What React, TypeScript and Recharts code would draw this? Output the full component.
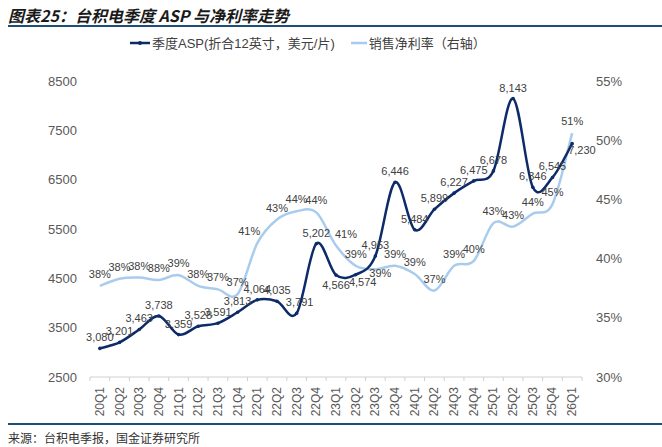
import { LineChart, Line, XAxis, YAxis, Legend, LabelList } from "recharts";

const quarters = [
  "20Q1", "20Q2", "20Q3", "20Q4", "21Q1", "21Q2", "21Q3", "21Q4",
  "22Q1", "22Q2", "22Q3", "22Q4", "23Q1", "23Q2", "23Q3", "23Q4",
  "24Q1", "24Q2", "24Q3", "24Q4", "25Q1", "25Q2", "25Q3", "25Q4", "26Q1",
];

// ASP, 12-inch equivalent, USD per wafer
const asp = [
  3080, 3201, 3463, 3738, 3359, 3528, 3591, 3813,
  4064, 4035, 3791, 5202, 4566, 4574, 4953, 6446,
  5484, 5899, 6227, 6475, 6678, 8143, 6346, 6545, 7230,
];

// net margin, %
const netMargin = [
  37.7, 38.3, 38.4, 38.2, 38.6, 37.7, 37.4, 37.0,
  41.3, 43.3, 44.0, 43.9, 41.1, 39.4, 39.1, 39.4,
  38.7, 37.3, 39.4, 39.8, 43.0, 42.7, 43.8, 44.6, 50.6,
];

const leftTicks = [2500, 3500, 4500, 5500, 6500, 7500, 8500];
const rightTicks = [30, 35, 40, 45, 50, 55];

const data = quarters.map((q, i) => ({ q, asp: asp[i], margin: netMargin[i] }));

const DARK = "#0D2B68";
const LIGHT = "#A9CCEE";
const FONT = "'Liberation Sans', 'Noto Sans CJK SC', sans-serif";

// Excel-style smoothed line (Catmull-Rom through the points)
const smoothCurve = (context: any) => {
  let pts: number[][] = [];
  return {
    areaStart() {},
    areaEnd() {},
    lineStart() {
      pts = [];
    },
    point(x: number, y: number) {
      pts.push([+x, +y]);
    },
    lineEnd() {
      if (!pts.length) return;
      context.moveTo(pts[0][0], pts[0][1]);
      const t = 1 / 6;
      for (let i = 0; i < pts.length - 1; i++) {
        const p0 = pts[Math.max(i - 1, 0)];
        const p1 = pts[i];
        const p2 = pts[i + 1];
        const p3 = pts[Math.min(i + 2, pts.length - 1)];
        context.bezierCurveTo(
          p1[0] + (p2[0] - p0[0]) * t,
          p1[1] + (p2[1] - p0[1]) * t,
          p2[0] - (p3[0] - p1[0]) * t,
          p2[1] - (p3[1] - p1[1]) * t,
          p2[0],
          p2[1]
        );
      }
    },
  };
};

const PLOT_W = 492;
const HALF_BAND = PLOT_W / quarters.length / 2;

const QuarterTick = ({ x, y, payload }: any) => (
  <g>
    <line x1={x - HALF_BAND} x2={x - HALF_BAND} y1={y - 8} y2={y - 4} stroke="#d0d0d0" />
    {payload.index === quarters.length - 1 && (
      <line x1={x + HALF_BAND} x2={x + HALF_BAND} y1={y - 8} y2={y - 4} stroke="#d0d0d0" />
    )}
    <text
      x={0}
      y={0}
      transform={`translate(${x + 4},${y + 2}) rotate(-90)`}
      textAnchor="end"
      fontSize={12}
      fill="#595959"
      fontFamily={FONT}
    >
      {payload.value}
    </text>
  </g>
);

const AspLabel = (props: any) => {
  const { x, y, index, value } = props;
  let dx = 0;
  let dy = -7;
  let anchor: "middle" | "start" = "middle";
  if (index === 12) dy = 14;
  if (index === 13) {
    dx = 7;
    dy = 11;
  }
  if (index === 10) dx = 3;
  if (index === 24) {
    dx = -4;
    dy = 10;
    anchor = "start";
  }
  return (
    <text x={x + dx} y={y + dy} textAnchor={anchor} fontSize={11} fill="#404040" fontFamily={FONT}>
      {Number(value).toLocaleString("en-US")}
    </text>
  );
};

const MarginLabel = (props: any) => {
  const { x, y, index, value } = props;
  let dx = 0;
  let dy = -8;
  if (index === 8) dx = -8;
  if (index === 12) dx = 10;
  if (index === 14) {
    dx = 5;
    dy = 8;
  }
  return (
    <text x={x + dx} y={y + dy} textAnchor="middle" fontSize={11} fill="#404040" fontFamily={FONT}>
      {Math.round(value)}%
    </text>
  );
};

const LegendBox = () => (
  <div style={{ display: "flex", alignItems: "center", fontSize: 13, color: "#404040", fontFamily: FONT, paddingLeft: 130 }}>
    <svg width={22} height={10}>
      <line x1={0} x2={20} y1={5} y2={5} stroke={DARK} strokeWidth={2.5} />
      <circle cx={10} cy={5} r={2} fill={DARK} />
    </svg>
    <span>季度ASP(折合12英寸，美元/片)</span>
    <svg width={18} height={10} style={{ marginLeft: 16 }}>
      <line x1={0} x2={16} y1={5} y2={5} stroke={LIGHT} strokeWidth={2.5} />
    </svg>
    <span>销售净利率（右轴）</span>
  </div>
);

export default function App() {
  return (
    <div style={{ position: "absolute", left: 0, top: 0, width: 662, height: 447, background: "#fff", fontFamily: FONT }}>
      <div
        style={{
          position: "absolute",
          left: 8,
          top: 3,
          fontSize: 16,
          fontWeight: 700,
          fontStyle: "italic",
          color: "#1a1a1a",
          fontFamily: "'Noto Sans CJK SC', sans-serif",
        }}
      >
        图表25：台积电季度 ASP 与净利率走势
      </div>
      <div style={{ position: "absolute", left: 8, right: 0, top: 25, height: 2, background: "#1F4E79" }} />
      <LineChart width={662} height={447} data={data} margin={{ top: 62, right: 0, left: 0, bottom: 30 }}>
        <Legend verticalAlign="top" wrapperStyle={{ top: 33, left: 0 }} content={() => <LegendBox />} />
        <XAxis
          dataKey="q"
          interval={0}
          padding={{ left: HALF_BAND, right: HALF_BAND }}
          height={40}
          tickLine={false}
          axisLine={{ stroke: "#d0d0d0" }}
          tick={<QuarterTick />}
        />
        <YAxis
          yAxisId="left"
          width={90}
          domain={[2500, 8500]}
          ticks={leftTicks}
          axisLine={false}
          tickLine={false}
          tickMargin={7}
          tick={{ fill: "#595959", fontSize: 13, fontFamily: FONT }}
        />
        <YAxis
          yAxisId="right"
          orientation="right"
          width={80}
          domain={[30, 55]}
          ticks={rightTicks}
          axisLine={false}
          tickLine={false}
          tickMargin={8}
          tickFormatter={(v: number) => `${v}%`}
          tick={{ fill: "#595959", fontSize: 13, fontFamily: FONT }}
        />
        <Line
          yAxisId="right"
          dataKey="margin"
          type={smoothCurve as any}
          stroke={LIGHT}
          strokeWidth={2.5}
          dot={false}
          isAnimationActive={false}
        >
          <LabelList dataKey="margin" content={<MarginLabel />} />
        </Line>
        <Line
          yAxisId="left"
          dataKey="asp"
          type={smoothCurve as any}
          stroke={DARK}
          strokeWidth={2.5}
          dot={{ r: 1.8, fill: DARK, stroke: DARK, strokeWidth: 0 }}
          isAnimationActive={false}
        >
          <LabelList dataKey="asp" content={<AspLabel />} />
        </Line>
      </LineChart>
      <div style={{ position: "absolute", left: 8, right: 0, top: 423, height: 2, background: "#1F4E79" }} />
      <div
        style={{
          position: "absolute",
          left: 8,
          top: 429,
          fontSize: 12,
          color: "#333",
          fontFamily: "'Noto Sans CJK SC', sans-serif",
        }}
      >
        来源：台积电季报，国金证券研究所
      </div>
    </div>
  );
}
